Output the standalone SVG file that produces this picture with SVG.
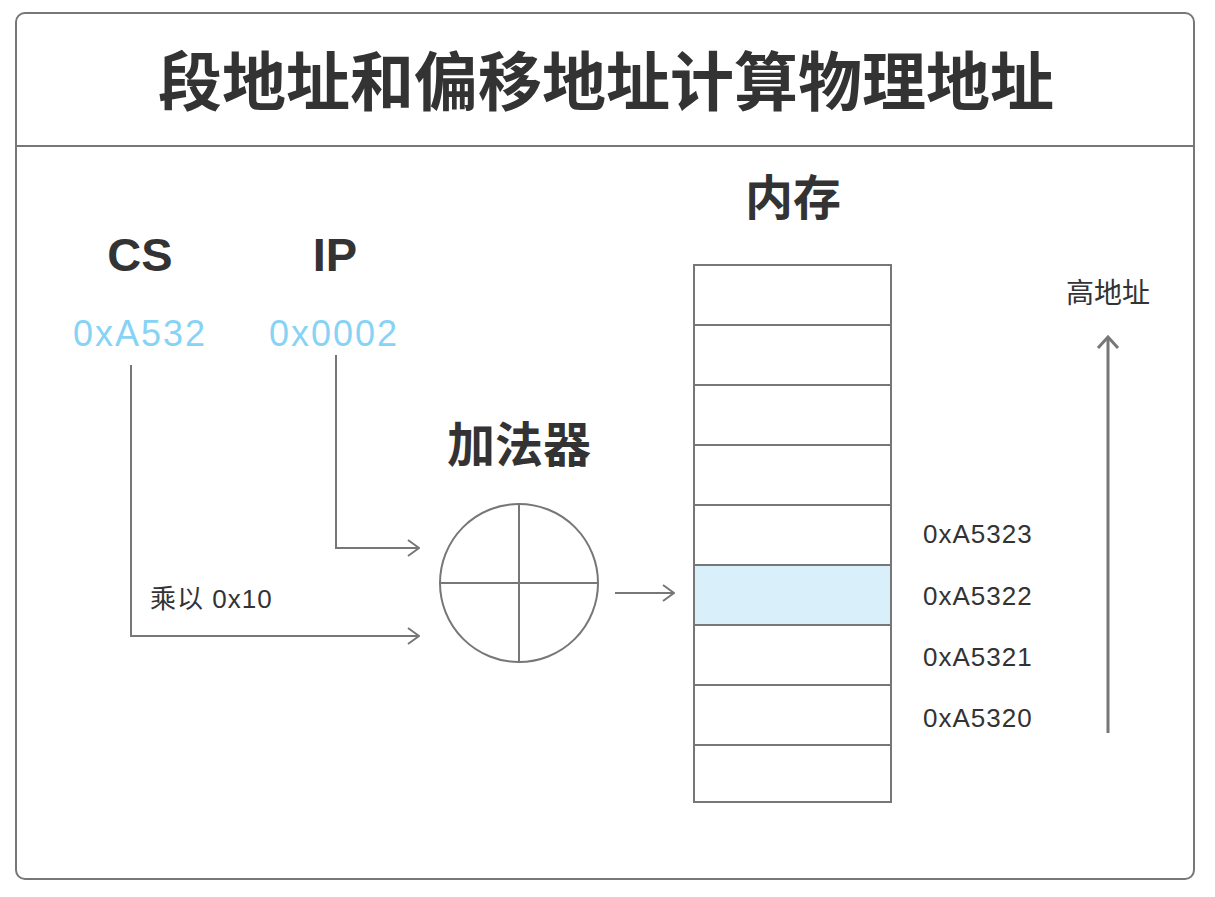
<svg xmlns="http://www.w3.org/2000/svg" width="1215" height="897" viewBox="0 0 1215 897">
<defs>
<style>
.ln{fill:none;stroke:#777;stroke-width:2}
.bold{font-family:"Liberation Sans","Noto Sans CJK SC",sans-serif;font-weight:bold;fill:#333;text-anchor:middle}
.hex{font-family:"Liberation Sans",sans-serif;font-size:36px;fill:#87d3f5;text-anchor:middle;letter-spacing:2px}
.lbl{font-family:"Liberation Sans","Noto Sans CJK SC",sans-serif;fill:#333}
.cell{fill:#fff;stroke:#777;stroke-width:2}
</style>
<marker id="ah" markerWidth="14" markerHeight="20" refX="13" refY="10" orient="auto" markerUnits="userSpaceOnUse">
<path d="M2,2 L13,10 L2,18" fill="none" stroke="#777" stroke-width="2"/>
</marker>
<marker id="ahUp" markerWidth="24" markerHeight="16" refX="12" refY="2" orient="0" markerUnits="userSpaceOnUse">
<path d="M2,13 L12,2 L22,13" fill="none" stroke="#777" stroke-width="3"/>
</marker>
</defs>
<rect x="0" y="0" width="1215" height="897" fill="#fff"/>
<g id="frame">
<rect x="16" y="13" width="1178" height="866" rx="9" fill="#fff" stroke="#777" stroke-width="2"/>
<line x1="16" y1="146" x2="1194" y2="146" stroke="#777" stroke-width="2"/>
<text class="bold" x="606" y="105" font-size="64">段地址和偏移地址计算物理地址</text>
</g>
<g id="cs">
<text class="bold" x="140" y="271" font-size="47">CS</text>
<text class="hex" x="140" y="346">0xA532</text>
</g>
<g id="ip">
<text class="bold" x="335" y="271" font-size="47">IP</text>
<text class="hex" x="334" y="346">0x0002</text>
</g>
<g id="adder">
<text class="bold" x="519" y="462" font-size="48">加法器</text>
<circle cx="519" cy="583" r="79" class="ln"/>
<line x1="519" y1="504" x2="519" y2="662" class="ln"/>
<line x1="440" y1="583" x2="598" y2="583" class="ln"/>
</g>
<g id="memory">
<text class="bold" x="793" y="215" font-size="48">内存</text>
<rect x="694" y="265" width="197" height="60" class="cell"/>
<rect x="694" y="325" width="197" height="60" class="cell"/>
<rect x="694" y="385" width="197" height="60" class="cell"/>
<rect x="694" y="445" width="197" height="60" class="cell"/>
<rect x="694" y="505" width="197" height="60" class="cell"/>
<rect x="694" y="565" width="197" height="60" class="cell" style="fill:#d9f0fb"/>
<rect x="694" y="625" width="197" height="60" class="cell"/>
<rect x="694" y="685" width="197" height="60" class="cell"/>
<rect x="694" y="745" width="197" height="57" class="cell"/>
</g>
<g id="addresses">
<text class="lbl" x="923" y="543" font-size="26" letter-spacing="1">0xA5323</text>
<text class="lbl" x="923" y="605" font-size="26" letter-spacing="1">0xA5322</text>
<text class="lbl" x="923" y="666" font-size="26" letter-spacing="1">0xA5321</text>
<text class="lbl" x="923" y="727" font-size="26" letter-spacing="1">0xA5320</text>
<text class="lbl" x="1066" y="303" font-size="28">高地址</text>
</g>
<g id="connectors">
<polyline points="336,355 336,548 419,548" class="ln" marker-end="url(#ah)"/>
<polyline points="131,365 131,636 419,636" class="ln" marker-end="url(#ah)"/>
<line x1="615" y1="593" x2="674" y2="593" class="ln" marker-end="url(#ah)"/>
<line x1="1108" y1="733" x2="1108" y2="337" stroke="#777" stroke-width="3" marker-end="url(#ahUp)"/>
<text class="lbl" x="150" y="608" font-size="26" letter-spacing="1">乘以 0x10</text>
</g>
</svg>
